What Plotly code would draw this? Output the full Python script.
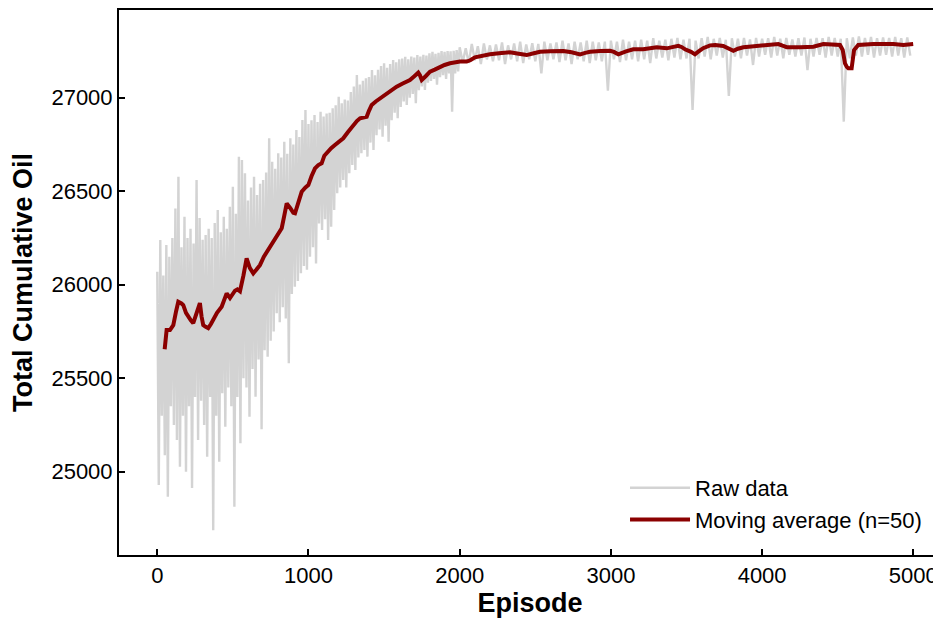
import plotly.graph_objects as go

# ---------------- data ----------------
# Raw data: upper / lower excursions of the noisy series.
# Early phase: knots every 20 episodes starting at 0 (high value at knot, low value 10 episodes later)
raw_hi_early = [
    26070, 26239, 26050, 26212, 26150, 26250, 26408, 26577, 26200, 26364,
    26250, 26300, 26220, 26560, 26357, 26240, 26266, 26300, 26250, 26330,
    26399, 26280, 26364, 26300, 26417, 26524, 26380, 26684, 26667, 26596,
    26450, 26520, 26577, 26480, 26540, 26560, 26600, 26783, 26658, 26620,
    26703, 26680, 26765, 26700, 26783, 26750, 26827, 26790, 26881, 26934,
    26860, 26880, 26907, 26870, 26925, 26900, 26916, 26920, 26943, 26960,
    27005, 26970, 26990, 26985, 27030, 27060, 27121, 27070, 27090, 27104,
    27110, 27148, 27120, 27150, 27170, 27184, 27160, 27180, 27202, 27190,
    27205, 27210, 27219, 27205, 27220, 27215, 27228, 27220, 27230, 27225,
    27238, 27246, 27235, 27240, 27250, 27245, 27250, 27248, 27251, 27255,
]
raw_lo_early = [
    24929, 25300, 25089, 24866, 25350, 25250, 25170, 25027, 25300, 25000,
    25350, 24913, 25400, 25170, 25380, 25250, 25080, 25400, 24688, 25300,
    25053, 25420, 25241, 25450, 25350, 24813, 25400, 25152, 25500, 25450,
    25294, 25550, 25401, 25600, 25228, 25650, 25615, 25700, 25750, 25847,
    25800, 25880, 25820, 25580, 25950, 25989, 26020, 26061, 26100, 26080,
    26150, 26200, 26114, 26328, 26293, 26350, 26239, 26310, 26400, 26489,
    26520, 26560, 26520, 26596, 26640, 26613, 26680, 26703, 26720, 26685,
    26760, 26720, 26800, 26830, 26791, 26850, 26765, 26880, 26920, 26890,
    26950, 26980, 26961, 27000, 27020, 26970, 27040, 27060, 27041, 27080,
    27090, 27100, 27070, 27110, 27120, 27100, 27130, 26925, 27130, 27140,
]
# Plateau: knots every 40 episodes starting at 2000 (high at knot, low 20 episodes later)
raw_hi_late = [
    27270, 27265, 27287, 27275, 27290, 27280, 27285, 27295, 27280, 27290,
    27300, 27285, 27292, 27288, 27300, 27290, 27295, 27305, 27290, 27300,
    27295, 27305, 27300, 27295, 27300, 27305, 27300, 27310, 27300, 27305,
    27310, 27305, 27318, 27305, 27310, 27315, 27320, 27310, 27315, 27305,
    27318, 27325, 27315, 27320, 27310, 27318, 27315, 27320, 27312, 27320,
    27315, 27318, 27325, 27315, 27320, 27312, 27318, 27322, 27315, 27320,
    27318, 27325, 27320, 27315, 27318, 27322, 27328, 27320, 27325, 27318,
    27322, 27320, 27325, 27318, 27322,
]
raw_lo_late = [
    27190, 27185, 27200, 27180, 27205, 27195, 27200, 27180, 27205, 27195,
    27185, 27205, 27195, 27130, 27200, 27205, 27190, 27200, 27180, 27205,
    27195, 27185, 27200, 27195, 27037, 27205, 27190, 27200, 27205, 27195,
    27205, 27185, 27210, 27215, 27200, 27215, 27205, 27210, 26934, 27210,
    27220, 27205, 27225, 27215, 27009, 27220, 27210, 27225, 27175, 27220,
    27230, 27215, 27225, 27210, 27230, 27220, 27225, 27148, 27220, 27230,
    27215, 27225, 27220, 26872, 27210, 27225, 27220, 27230, 27215, 27225,
    27230, 27220, 27225, 27215, 27225,
]

# Moving average (n=50)
ma_episode = [
    49, 55, 62, 84, 106, 125, 139, 160, 172, 190, 205, 222, 238, 255, 270, 282,
    293, 304, 320, 337, 355, 370, 395, 426, 445, 459, 481, 500, 514, 530, 547,
    570, 591, 612, 635, 655, 679, 705, 734, 756, 778, 800, 823, 840, 856, 880,
    900, 911, 935, 955, 980, 999, 1020, 1043, 1065, 1087, 1105, 1120, 1150,
    1175, 1200, 1230, 1260, 1296, 1320, 1341, 1385, 1400, 1418, 1445, 1473,
    1517, 1550, 1583, 1620, 1671, 1700, 1726, 1737, 1749, 1775, 1804, 1835,
    1870, 1900, 1936, 1970, 2002, 2046, 2070, 2101, 2134, 2170, 2200, 2260,
    2333, 2390, 2443, 2490, 2531, 2600, 2685, 2740, 2796, 2830, 2862, 2930,
    2994, 3020, 3049, 3100, 3148, 3214, 3260, 3303, 3369, 3410, 3446, 3470,
    3490, 3530, 3556, 3578, 3610, 3656, 3690, 3743, 3780, 3810, 3840, 3876,
    3930, 3986, 4050, 4107, 4135, 4163, 4251, 4339, 4405, 4460, 4515, 4533,
    4548, 4560, 4570, 4592, 4600, 4608, 4636, 4735, 4868, 4934, 4999,
]
ma_value = [
    25655, 25740, 25758, 25758, 25784, 25860, 25909, 25900, 25891, 25850, 25829,
    25810, 25795, 25840, 25880, 25902, 25830, 25784, 25775, 25768, 25790, 25811,
    25850, 25882, 25920, 25954, 25929, 25950, 25968, 25975, 25965, 26050, 26141,
    26090, 26061, 26080, 26105, 26150, 26186, 26220, 26248, 26275, 26302, 26370,
    26435, 26410, 26385, 26382, 26445, 26497, 26520, 26533, 26580, 26622, 26640,
    26649, 26690, 26705, 26730, 26747, 26765, 26783, 26815, 26854, 26875, 26890,
    26898, 26930, 26961, 26980, 26997, 27024, 27045, 27059, 27075, 27095, 27115,
    27134, 27120, 27095, 27115, 27139, 27150, 27166, 27175, 27184, 27190, 27193,
    27193, 27200, 27216, 27222, 27228, 27232, 27238, 27243, 27235, 27228, 27238,
    27246, 27248, 27250, 27243, 27232, 27240, 27246, 27250, 27251, 27245, 27232,
    27248, 27259, 27259, 27265, 27270, 27264, 27270, 27277, 27270, 27259, 27245,
    27232, 27246, 27265, 27280, 27282, 27277, 27262, 27251, 27262, 27270, 27274,
    27277, 27282, 27287, 27278, 27270, 27270, 27273, 27287, 27284, 27282, 27255,
    27184, 27165, 27157, 27157, 27200, 27255, 27282, 27287, 27287, 27282, 27287,
]

x_ticks = [0, 1000, 2000, 3000, 4000, 5000]
y_ticks = [25000, 25500, 26000, 26500, 27000]

# ---------------- assemble raw series ----------------
raw_x, raw_y = [], []
for i, (hi, lo) in enumerate(zip(raw_hi_early, raw_lo_early)):
    e = 20 * i
    raw_x += [e, e + 10]
    raw_y += [hi, lo]
for i, (hi, lo) in enumerate(zip(raw_hi_late, raw_lo_late)):
    e = 2000 + 40 * i
    raw_x += [e, e + 20]
    raw_y += [hi, lo]

FONT = "Liberation Sans, Arial, sans-serif"

fig = go.Figure()
fig.add_trace(go.Scatter(
    x=raw_x, y=raw_y, mode="lines", name="Raw data",
    line=dict(color="#d3d3d3", width=2.4),
))
fig.add_trace(go.Scatter(
    x=ma_episode, y=ma_value, mode="lines", name="Moving average (n=50)",
    line=dict(color="#8b0000", width=4),
))

fig.update_layout(
    width=933, height=610,
    margin=dict(l=111, r=0, t=2, b=63),
    plot_bgcolor="white", paper_bgcolor="white",
    font=dict(family=FONT, size=22, color="black"),
    showlegend=True,
    legend=dict(
        x=0.6156, xanchor="left", y=0.0257, yanchor="bottom",
        itemwidth=60, tracegroupgap=0,
        bgcolor="rgba(0,0,0,0)", borderwidth=0,
        font=dict(family=FONT, size=22, color="black"),
    ),
    xaxis=dict(
        range=[-253, 5183],
        tickvals=x_ticks, ticktext=[str(v) for v in x_ticks],
        ticks="inside", ticklen=6, tickwidth=1.5, tickcolor="black",
        showline=True, linewidth=2, linecolor="black", mirror=True,
        showgrid=False, zeroline=False,
        tickfont=dict(family=FONT, size=22, color="black"),
        title=dict(text="<b>Episode</b>", font=dict(family=FONT, size=27, color="black"), standoff=8),
    ),
    yaxis=dict(
        range=[24555, 27469],
        tickvals=y_ticks, ticktext=[str(v) for v in y_ticks],
        ticks="inside", ticklen=6, tickwidth=1.5, tickcolor="black",
        showline=True, linewidth=2, linecolor="black", mirror=False,
        showgrid=False, zeroline=False,
        tickfont=dict(family=FONT, size=22, color="black"),
        title=dict(text="<b>Total Cumulative Oil</b>", font=dict(family=FONT, size=27, color="black"), standoff=12),
    ),
)

fig.write_html("out.html")
